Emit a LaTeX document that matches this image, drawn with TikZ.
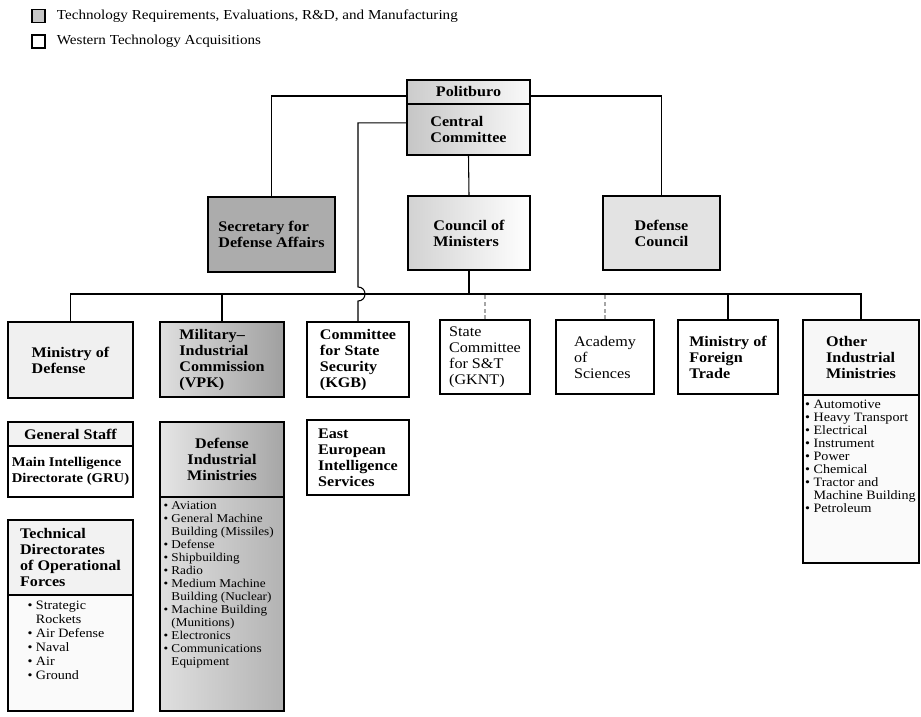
\documentclass[tikz,border=0pt]{standalone}
\usepackage{amsmath, amssymb}
\usepackage{xcolor}
\usepackage{fontspec}
\setmainfont{Liberation Serif}
\newfontfamily\scanfont{Liberation Serif}[FakeStretch=1.1]
\usepackage{tikz}

\newcommand{\cont}{\hphantom{\textbullet\ }}

\begin{document}
\begin{tikzpicture}[x=0.75pt, y=-0.75pt,
  box/.style={draw, line width=1.1pt, inner sep=2pt, align=left,
    font=\scanfont\bfseries\fontsize{11}{12}\selectfont},
  thinface/.style={font=\scanfont\fontsize{11}{12}\selectfont},
  sz/.style 2 args={minimum width=#1*0.75pt, minimum height=#2*0.75pt},
  items/.style={inner sep=0pt, align=left, anchor=north west,
    font=\scanfont\fontsize{9}{9.75}\selectfont},
  link/.style={line width=0.8pt},
  faint/.style={line width=0.8pt, gray!70, densely dashed}
]

\path[use as bounding box, fill=white] (0,0) rectangle (921,717);

% legend
\node[box, line width=0.8pt, inner sep=0pt, sz={13}{13}, fill=gray!45] (keyTech) at (38.5,16) {};
\node[anchor=west, xshift=5pt, font=\scanfont\fontsize{10.3}{12}\selectfont] (keyTechText) at (keyTech.east) {Technology Requirements, Evaluations, R\&D, and Manufacturing};

\node[box, line width=0.8pt, inner sep=0pt, sz={13}{13}] (keyWest) at (38.5,41.5) {};
\node[anchor=west, xshift=5pt, font=\scanfont\fontsize{10.3}{12}\selectfont] (keyWestText) at (keyWest.east) {Western Technology Acquisitions};

% party and government
\node[box, sz={123}{24}, left color=gray!40, right color=gray!5] (pol) at (468.5,92) {Politburo};
\node[box, sz={123}{51}, left color=gray!45, right color=gray!5] (cc) at (468.5,129.5) {Central\\Committee};

\node[box, sz={127}{75}, fill=gray!65] (sec) at (271.5,234.5) {Secretary for\\Defense Affairs};
\node[box, sz={122}{74}, left color=gray!35, right color=white] (com) at (469,233) {Council of\\Ministers};
\node[box, sz={117}{74}, fill=gray!22] (dc) at (661.5,233) {Defense\\Council};

% ministries and committees
\node[box, sz={125}{76}, fill=gray!12] (mod) at (70.5,360) {Ministry of\\Defense};
\node[box, sz={124}{75}, left color=gray!25, right color=gray!75] (mic) at (222,359.5) {Military–\\Industrial\\Commission\\(VPK)};
\node[box, sz={102}{75}] (kgb) at (358,359.5) {Committee\\for State\\Security\\(KGB)};
\node[box, thinface, sz={90}{74}] (gknt) at (485,357) {State\\Committee\\for S\&T\\(GKNT)};
\node[box, thinface, sz={98}{74}] (acad) at (605,357) {Academy\\of\\Sciences};
\node[box, sz={100}{74}] (mft) at (728,357) {Ministry of\\Foreign\\Trade};
\node[box, sz={116}{75}, fill=gray!6] (oth) at (861,357.5) {Other\\Industrial\\Ministries};
\node[box, sz={116}{168}, fill=gray!4] (othlist) at (861,479) {};
\node[items, font=\scanfont\fontsize{9.6}{9.75}\selectfont] (othitems) at ([shift={(2pt,-4pt)}]othlist.north west)
  {\textbullet\ Automotive\\\textbullet\ Heavy Transport\\\textbullet\ Electrical\\\textbullet\ Instrument\\\textbullet\ Power\\\textbullet\ Chemical\\\textbullet\ Tractor and\\\cont Machine Building\\\textbullet\ Petroleum};

% third row
\node[box, sz={125}{24}, fill=gray!10] (gs) at (70.5,434) {General Staff};
\node[box, sz={125}{51}, font=\scanfont\bfseries\fontsize{10}{12}\selectfont] (gru) at (70.5,471.5) {Main Intelligence\\Directorate (GRU)};

\node[box, sz={124}{75}, left color=gray!20, right color=gray!70, align=center] (dim) at (222,459.5) {Defense\\Industrial\\Ministries};
\node[box, sz={124}{214}, left color=gray!25, right color=gray!60] (dimlist) at (222,604) {};
\node[items] (dimitems) at ([shift={(3pt,-4pt)}]dimlist.north west)
  {\textbullet\ Aviation\\\textbullet\ General Machine\\\cont Building (Missiles)\\\textbullet\ Defense\\\textbullet\ Shipbuilding\\\textbullet\ Radio\\\textbullet\ Medium Machine\\\cont Building (Nuclear)\\\textbullet\ Machine Building\\\cont (Munitions)\\\textbullet\ Electronics\\\textbullet\ Communications\\\cont Equipment};

\node[box, sz={102}{75}] (eeis) at (358,457.5) {East\\European\\Intelligence\\Services};

\node[box, sz={125}{75}, fill=gray!10] (td) at (70.5,557.5) {Technical\\Directorates\\of Operational\\Forces};
\node[box, sz={125}{116}, fill=gray!4] (tdlist) at (70.5,653) {};
\node[items, font=\scanfont\fontsize{9.6}{10.5}\selectfont] (tditems) at ([shift={(15pt,-5pt)}]tdlist.north west)
  {\textbullet\ Strategic\\\cont Rockets\\\textbullet\ Air Defense\\\textbullet\ Naval\\\textbullet\ Air\\\textbullet\ Ground};

% connectors
\coordinate (bus) at (0,294);
\coordinate (hopA) at (358,287);
\coordinate (hopB) at (358,301);

\draw[link] ([yshift=-3pt]pol.west) -| (sec.north);
\draw[link] ([yshift=-3pt]pol.east) -| (dc.north);
\draw[link] (cc.south) -- (com.north);
\draw[link] ([yshift=5pt]cc.west) -| (hopA) .. controls ([xshift=7pt]hopA) and ([xshift=7pt]hopB) .. (hopB) -- (kgb.north);

\draw[link] (mod.north) -- (mod.north |- bus) -- (oth.north |- bus) -- (oth.north);
\draw[link] (com.south) -- (com.south |- bus);
\draw[link] (mic.north) -- (mic.north |- bus);
\draw[link] (mft.north) -- (mft.north |- bus);
\draw[faint] (gknt.north) -- (gknt.north |- bus);
\draw[faint] (acad.north) -- (acad.north |- bus);

\end{tikzpicture}
\end{document}
